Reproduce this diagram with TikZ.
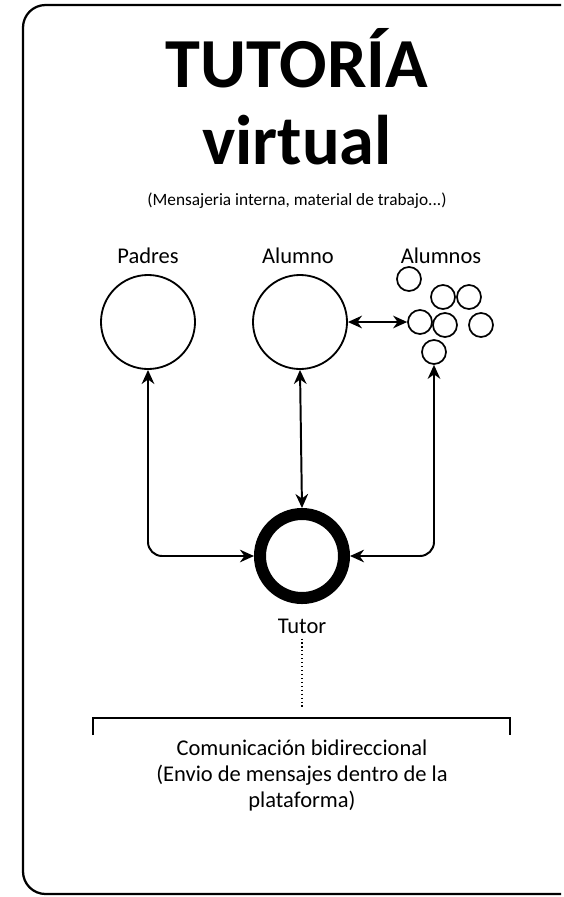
\documentclass[tikz,border=0pt]{standalone}
\usepackage{fontspec}
\setmainfont{Carlito}
\usetikzlibrary{arrows.meta,positioning,calc}

\begin{document}
\begin{tikzpicture}[x=0.025cm, y=-0.025cm, >={Stealth[length=10pt,width=9pt]},
    person/.style={draw, circle, line width=1.3pt, minimum size=2.35cm, inner sep=0pt},
    peer/.style={draw, circle, line width=1.2pt, minimum size=0.6cm, inner sep=0pt},
    caption/.style={font=\fontsize{16}{18.5}\selectfont},
    link/.style={<->, line width=1.4pt, rounded corners=10pt}]

  % ============================================================
  % FRAME (runs off the right edge)
  % ============================================================
  \path (0,0) rectangle (564,897);
  \draw[line width=1.6pt, rounded corners=16pt] (561,894) -| (23,5) -- (561,5);

  % Title
  \node[font=\bfseries\fontsize{50}{55}\selectfont] (title) at (297,58) {TUTORÍA};
  \node[font=\bfseries\fontsize{50}{55}\selectfont] (title2) at (297,140) {virtual};
  \node[font=\fontsize{12.3}{14}\selectfont] (sub) at (297,201)
    {(Mensajeria interna, material de trabajo...)};

  % ============================================================
  % TOP ROW: Padres, Alumno, Alumnos
  % ============================================================
  \node[person] (padres) at (148,322) {};
  \node[person] (alumno) at (300,322) {};
  \node[caption] at (148,256) {Padres};
  \node[caption] at (298,256) {Alumno};
  \node[caption] at (441,256) {Alumnos};

  % group of pupils
  \node[peer] (al1) at (409,279) {};
  \node[peer] (al2) at (443,297) {};
  \node[peer] (al3) at (469,297) {};
  \node[peer] (al4) at (420,322) {};
  \node[peer] (al5) at (445,325) {};
  \node[peer] (al6) at (481,325) {};
  \node[peer] (al7) at (434,352) {};

  % ============================================================
  % TUTOR
  % ============================================================
  \node[draw, circle, line width=0.3cm, minimum size=2.1cm, inner sep=0pt]
    (tutor) at (302,556) {};
  \node[caption, anchor=north] (tutorlab) at (302,614) {Tutor};

  % Connectors
  \draw[link] (padres.south) |- (tutor.west);
  \draw[link] (alumno.south) -- (tutor.north);
  \draw[link] (al7.south) |- (tutor.east);
  \draw[<->, line width=1.4pt] (alumno.east) -- (al4.west);

  % ============================================================
  % BOTTOM: bracket and note
  % ============================================================
  \coordinate (brL) at (93,735);
  \coordinate (brR) at (510,735);
  \coordinate (brM) at (302,709);
  \draw[line width=0.8pt, dotted] (tutorlab.south) -- (brM);
  \draw[line width=1.4pt] (brL) -- ++(0,-17) -| (brR);

  \node[caption, align=center, anchor=north] (note) at (302,735)
    {Comunicación bidireccional\\
     (Envio de mensajes dentro de la\\
     plataforma)};

\end{tikzpicture}
\end{document}
